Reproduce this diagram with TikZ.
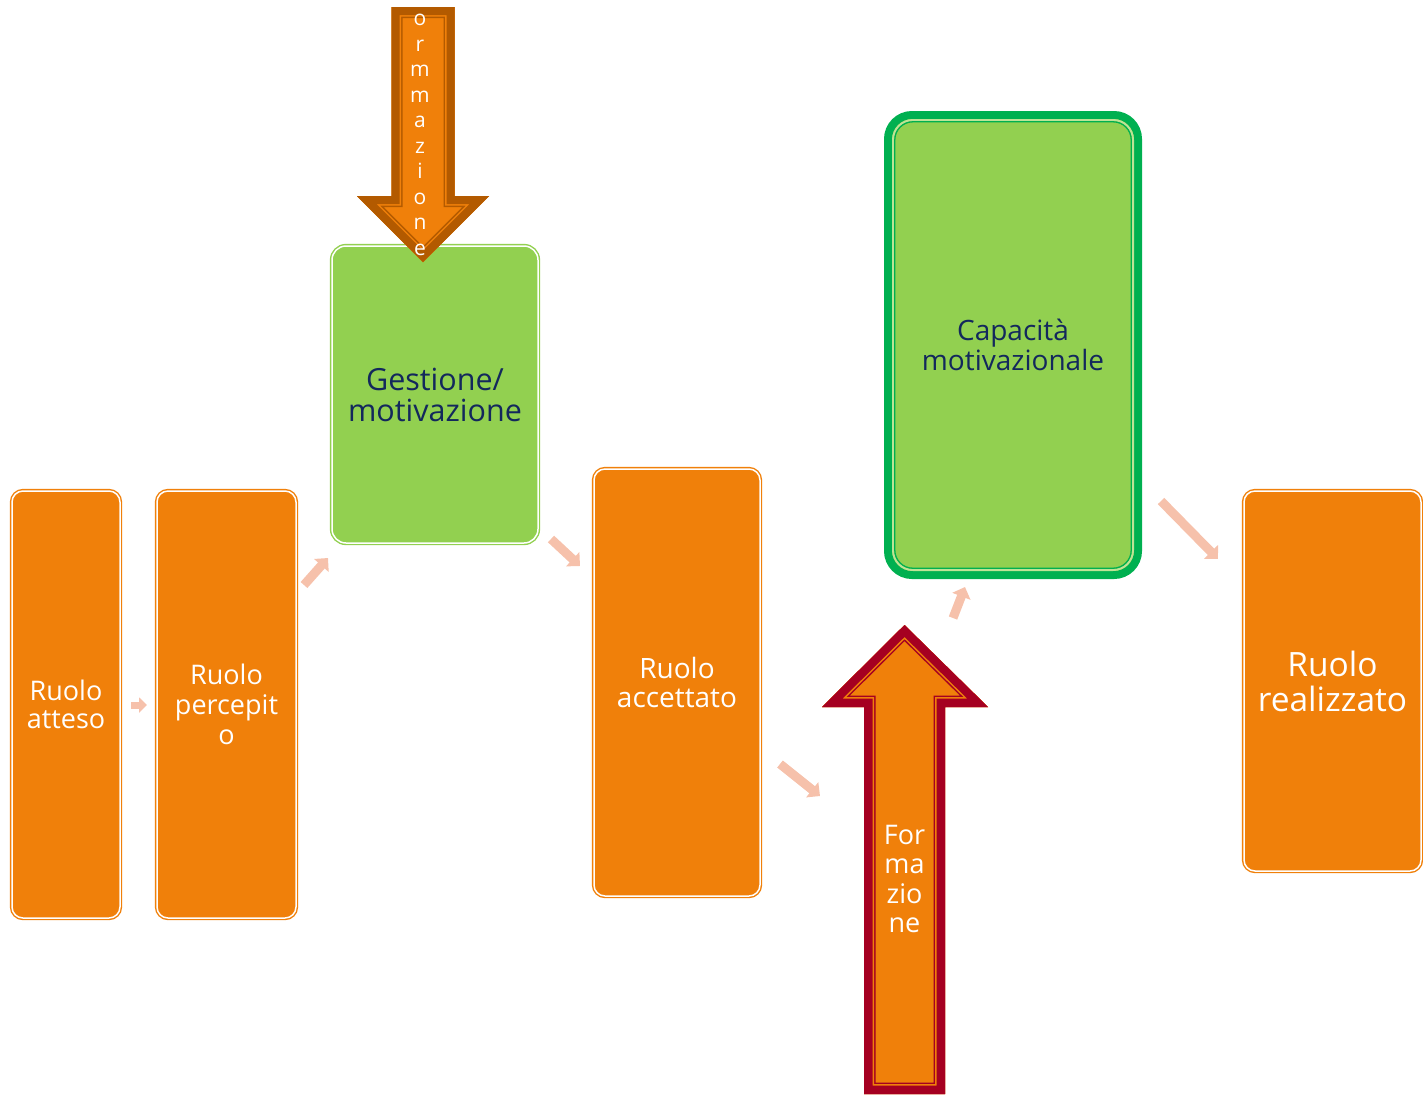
\documentclass[tikz,border=0pt]{standalone}
\usepackage{fontspec}
\setmainfont{Open Sans}
\usetikzlibrary{arrows.meta}
\definecolor{orng}{HTML}{F0800A}
\definecolor{lgreen}{HTML}{92D050}
\definecolor{dgreen}{HTML}{00B050}
\definecolor{navy}{HTML}{13285C}
\definecolor{brownc}{HTML}{B35A00}
\definecolor{redc}{HTML}{A50021}
\definecolor{salmon}{HTML}{F6C1AB}
\begin{document}
\begin{tikzpicture}[x=1pt,y=-1pt,
  obox/.style={rectangle, rounded corners=11pt, fill=orng, draw=orng, line width=1.4pt,
    double=white, double distance=1.5pt, inner sep=0pt, outer sep=0pt, text=white, align=center},
  gbox/.style={obox, fill=lgreen, draw=lgreen, text=navy},
  cbox/.style={rectangle, rounded corners=24pt, fill=lgreen, draw=dgreen, line width=8pt,
    inner sep=0pt, outer sep=0pt, text=navy, align=center},
  smallarr/.style={draw=salmon, line width=9pt, -{Triangle[width=19pt,length=10pt]}},
  tinyarr/.style={draw=salmon, line width=7pt, -{Triangle[width=15pt,length=8pt]}},
  arrtext/.style={inner sep=0pt, text=white, align=center}
]
\useasboundingbox (0,0) rectangle (1423,1096);

% boxes
\node[obox, minimum width=108pt, minimum height=427pt, font=\fontsize{27}{28}\selectfont] (atteso) at (66,704.5) {Ruolo\\atteso};
\node[obox, minimum width=139pt, minimum height=427pt, font=\fontsize{27}{30}\selectfont] (percepito) at (226.5,704.5) {Ruolo\\percepit\\o};
\node[gbox, minimum width=206pt, minimum height=297pt, rounded corners=14pt, font=\fontsize{30.5}{31}\selectfont] (gestione) at (435,394.5) {Gestione/\\motivazione};
\node[obox, minimum width=166pt, minimum height=427pt, font=\fontsize{28}{29}\selectfont] (accettato) at (677,682.5) {Ruolo\\accettato};
\node[obox, minimum width=177pt, minimum height=380pt, font=\fontsize{33.5}{35}\selectfont] (realizzato) at (1332.5,681) {Ruolo\\realizzato};
\node[cbox, minimum width=250pt, minimum height=460pt, font=\fontsize{28}{30}\selectfont] (cap) at (1013,345) {Capacità\\motivazionale};
\draw[lgreen!60!white, line width=2pt, rounded corners=20pt] ([shift={(5,5)}]cap.north west) rectangle ([shift={(-5,-5)}]cap.south east);
\draw[dgreen, line width=1.3pt, rounded corners=18pt] ([shift={(6.8,6.8)}]cap.north west) rectangle ([shift={(-6.8,-6.8)}]cap.south east);

% top arrow (down)
\coordinate (t1) at (391.5,7);
\coordinate (t2) at (454.5,7);
\coordinate (t3) at (454.5,196);
\coordinate (t4) at (489,196);
\coordinate (t5) at (423,262);
\coordinate (t6) at (357,196);
\coordinate (t7) at (391.5,196);
\fill[orng] (t1)--(t2)--(t3)--(t4)--(t5)--(t6)--(t7)--cycle;
\begin{scope}
\clip (t1)--(t2)--(t3)--(t4)--(t5)--(t6)--(t7)--cycle;
\draw[brownc, line width=22pt, line join=miter] (t1)--(t2)--(t3)--(t4)--(t5)--(t6)--(t7)--cycle;
\draw[orng, line width=19pt, line join=miter] (t1)--(t2)--(t3)--(t4)--(t5)--(t6)--(t7)--cycle;
\draw[brownc, line width=16pt, line join=miter] (t1)--(t2)--(t3)--(t4)--(t5)--(t6)--(t7)--cycle;
\end{scope}
\node[arrtext, font=\fontsize{21}{25.5}\selectfont] (ormm) at (420,135) {o\\r\\m\\m\\a\\z\\i\\o\\n\\e};

% bottom arrow (up)
\coordinate (b1) at (864,1094);
\coordinate (b2) at (945,1094);
\coordinate (b3) at (945,707);
\coordinate (b4) at (988,707);
\coordinate (b5) at (904.5,625);
\coordinate (b6) at (822,707);
\coordinate (b7) at (864,707);
\fill[orng] (b1)--(b2)--(b3)--(b4)--(b5)--(b6)--(b7)--cycle;
\begin{scope}
\clip (b1)--(b2)--(b3)--(b4)--(b5)--(b6)--(b7)--cycle;
\draw[redc, line width=23pt, line join=miter] (b1)--(b2)--(b3)--(b4)--(b5)--(b6)--(b7)--cycle;
\draw[orng, line width=20pt, line join=miter] (b1)--(b2)--(b3)--(b4)--(b5)--(b6)--(b7)--cycle;
\draw[redc, line width=17pt, line join=miter] (b1)--(b2)--(b3)--(b4)--(b5)--(b6)--(b7)--cycle;
\end{scope}
\node[arrtext, font=\fontsize{27}{29.5}\selectfont] (form) at (904.5,879) {For\\ma\\zio\\ne};

% small arrows
\coordinate (a1s) at (131,705); \coordinate (a1e) at (147,705);
\coordinate (a2s) at (304,585); \coordinate (a2e) at (328,558);
\coordinate (a3s) at (551,539); \coordinate (a3e) at (580,566);
\coordinate (a4s) at (780,764); \coordinate (a4e) at (820,796);
\coordinate (a5s) at (953,618); \coordinate (a5e) at (965,587);
\coordinate (a6s) at (1161,501); \coordinate (a6e) at (1218,559);
\draw[tinyarr] (a1s) -- (a1e);
\draw[smallarr] (a2s) -- (a2e);
\draw[smallarr] (a3s) -- (a3e);
\draw[smallarr] (a4s) -- (a4e);
\draw[smallarr] (a5s) -- (a5e);
\draw[smallarr] (a6s) -- (a6e);
\end{tikzpicture}
\end{document}
